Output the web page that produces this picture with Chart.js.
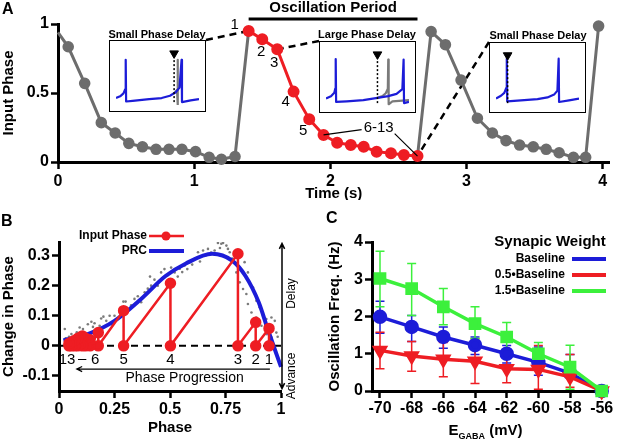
<!DOCTYPE html>
<html>
<head>
<meta charset="utf-8">
<title>Input phase, PRC and oscillation frequency</title>
<script src="https://cdn.jsdelivr.net/npm/chart.js@4.4.1/dist/chart.umd.min.js"></script>
<style>
  html, body { margin: 0; padding: 0; background: #fff; }
  #fig { position: relative; width: 617px; height: 440px; overflow: hidden; font-family: "Liberation Sans", Arial, sans-serif; }
  #fig canvas { position: absolute; }
  #fig .inset canvas { position: static; display: block; }
  .inset { position: absolute; border: 1.5px solid #000; background: #fff; }
  .inset-title { position: absolute; font-weight: bold; font-size: 11px; white-space: nowrap; transform: translate(-50%, -50%); }
  .panel-letter { position: absolute; font-weight: bold; font-size: 16px; line-height: 16px; }
</style>
</head>
<body>
<div id="fig">
  <canvas id="chartA" width="617" height="200" style="left:0;top:0"></canvas>
  <canvas id="chartB" width="305" height="240" style="left:0;top:200px"></canvas>
  <canvas id="chartC" width="312" height="240" style="left:305px;top:200px"></canvas>

  <div class="inset-title" style="left:157px;top:34px">Small Phase Delay</div>
  <div class="inset" id="inset1" style="left:109px;top:40px"><canvas id="insetChart1" width="95" height="70"></canvas></div>
  <div class="inset-title" style="left:367px;top:34px">Large Phase Delay</div>
  <div class="inset" id="inset2" style="left:319px;top:41px"><canvas id="insetChart2" width="95" height="70"></canvas></div>
  <div class="inset-title" style="left:538px;top:35px">Small Phase Delay</div>
  <div class="inset" id="inset3" style="left:489px;top:42px"><canvas id="insetChart3" width="95" height="69"></canvas></div>

  <div class="panel-letter" style="left:2px;top:1px">A</div>
  <div class="panel-letter" style="left:1px;top:213px">B</div>
  <div class="panel-letter" style="left:326px;top:210px">C</div>
</div>

<script>
// ---- Panel A: input phase over time ----
const tPre = [0, 0.075, 0.196, 0.318, 0.42, 0.52, 0.62, 0.72, 0.815, 0.91, 1.01, 1.11, 1.2, 1.3, 1.4];
const phPre = [0.94, 0.835, 0.57, 0.285, 0.21, 0.135, 0.11, 0.092, 0.092, 0.092, 0.075, 0.034, 0.02, 0.04, 0.95];
const tCycle = [1.4, 1.5, 1.61, 1.73, 1.845, 1.95, 2.05, 2.15, 2.245, 2.34, 2.445, 2.54, 2.64];
const phCycle = [0.95, 0.89, 0.817, 0.51, 0.31, 0.196, 0.14, 0.123, 0.11, 0.075, 0.063, 0.05, 0.043];
const tPost = [2.64, 2.74, 2.845, 2.96, 3.08, 3.19, 3.29, 3.39, 3.49, 3.585, 3.68, 3.785, 3.875, 3.97];
const phPost = [0.043, 0.945, 0.85, 0.594, 0.317, 0.21, 0.155, 0.123, 0.11, 0.092, 0.067, 0.034, 0.034, 0.985];
const timeTicks = [0, 1, 2, 3, 4];
const inputTicks = [0, 0.5, 1];
const cycleNumbers = ["1", "2", "3", "4", "5"];

// inset voltage traces, [time, voltage] in box units
const inset1Blue = [[0, 0.12], [0.05, 0.15], [0.09, 0.2], [0.11, 0.27], [0.117, 0.78], [0.122, 0.06], [0.2, 0.07], [0.4, 0.1], [0.55, 0.12], [0.65, 0.16], [0.72, 0.22], [0.765, 0.3], [0.79, 0.78], [0.795, 0.05], [0.9, 0.08], [1, 0.1]];
const inset1Gray = [[0.7, 0.2], [0.735, 0.26], [0.742, 0.78], [0.746, 0.0]];
const inset2Blue = [[0, 0.13], [0.06, 0.17], [0.1, 0.23], [0.112, 0.3], [0.117, 0.81], [0.122, 0.07], [0.25, 0.08], [0.45, 0.1], [0.62, 0.14], [0.75, 0.17], [0.85, 0.21], [0.92, 0.29], [0.935, 0.8], [0.94, 0.05], [1, 0.07]];
const inset2Gray = [[0.62, 0.14], [0.68, 0.17], [0.72, 0.22], [0.745, 0.3], [0.75, 0.8], [0.755, 0.03], [0.8, 0.08], [1, 0.1]];
const inset3Blue = [[0, 0.13], [0.06, 0.18], [0.1, 0.23], [0.125, 0.32], [0.13, 0.83], [0.135, 0.08], [0.3, 0.1], [0.5, 0.12], [0.62, 0.15], [0.7, 0.2], [0.74, 0.27], [0.755, 0.83], [0.76, 0.07], [0.88, 0.1], [1, 0.13]];
const inset3Gray = [];
const insetMarks = [0.7, 0.62, 0.14];

// ---- Panel B: phase response ----
const stimPhase = [0.946, 0.886, 0.806, 0.502, 0.291, 0.177, 0.14, 0.12, 0.105, 0.085, 0.07, 0.055, 0.045];
const stimShift = [0.058, 0.078, 0.306, 0.208, 0.117, 0.044, 0.02, 0.025, 0.033, 0.025, 0.018, 0.012, 0.008];
const prcPhase = [0.02, 0.13, 0.25, 0.37, 0.48, 0.57, 0.69, 0.78, 0.84, 0.9, 0.94, 1.0];
const prcShift = [0.018, 0.039, 0.083, 0.156, 0.232, 0.273, 0.306, 0.283, 0.232, 0.144, 0.056, -0.07];
const samplePhase = [0.026, 0.03, 0.045, 0.056, 0.07, 0.08, 0.093, 0.108, 0.12, 0.13, 0.146, 0.153, 0.16, 0.175, 0.183, 0.19, 0.2, 0.213, 0.228, 0.24, 0.25, 0.262, 0.275, 0.29, 0.3, 0.31, 0.325, 0.34, 0.355, 0.37, 0.386, 0.4, 0.41, 0.415, 0.43, 0.445, 0.46, 0.475, 0.49, 0.505, 0.521, 0.535, 0.544, 0.555, 0.566, 0.578, 0.589, 0.6, 0.611, 0.626, 0.635, 0.649, 0.66, 0.671, 0.685, 0.701, 0.716, 0.725, 0.731, 0.739, 0.754, 0.761, 0.769, 0.78, 0.799, 0.814, 0.829, 0.836, 0.844, 0.851, 0.851, 0.867, 0.874, 0.889, 0.889, 0.904, 0.912, 0.919, 0.934, 0.934, 0.957, 0.957, 0.972, 0.979, 0.985];
const sampleShift = [0.056, 0.025, 0.03, 0.039, 0.02, 0.045, 0.061, 0.056, 0.035, 0.072, 0.08, 0.063, 0.075, 0.05, 0.067, 0.091, 0.097, 0.083, 0.1, 0.07, 0.1, 0.089, 0.11, 0.147, 0.147, 0.12, 0.135, 0.156, 0.165, 0.145, 0.178, 0.19, 0.23, 0.2, 0.22, 0.2, 0.244, 0.255, 0.235, 0.26, 0.244, 0.23, 0.256, 0.245, 0.267, 0.255, 0.278, 0.27, 0.289, 0.311, 0.28, 0.317, 0.3, 0.322, 0.31, 0.317, 0.342, 0.325, 0.339, 0.342, 0.333, 0.322, 0.311, 0.29, 0.244, 0.211, 0.189, 0.278, 0.172, 0.244, 0.139, 0.111, 0.194, 0.15, 0.094, 0.128, 0.067, 0.1, 0.089, 0.039, 0.094, 0.028, 0.083, 0.044, 0.03];
const phaseTicks = [0, 0.25, 0.5, 0.75, 1];
const shiftTicks = [-0.1, 0, 0.1, 0.2, 0.3];

// ---- Panel C: oscillation frequency vs E_GABA ----
const eGaba = [-70, -68, -66, -64, -62, -60, -58, -56];
const seriesNames = ["Baseline", "0.5\u2022Baseline", "1.5\u2022Baseline"];
const freqBase = [1.99, 1.72, 1.45, 1.23, 1.0, 0.77, 0.48, 0];
const freqBaseHi = [2.41, 2.03, 1.72, 1.45, 1.22, 1.18, 0.98, 0];
const freqBaseLo = [1.55, 1.33, 1.15, 0.98, 0.75, 0.42, 0.38, 0];
const freqHalf = [1.09, 0.94, 0.85, 0.8, 0.6, 0.58, 0.38, 0];
const freqHalfHi = [1.58, 1.33, 1.3, 1.4, 0.95, 1.22, 0.98, 0];
const freqHalfLo = [0.6, 0.53, 0.38, 0.2, 0.22, 0.05, 0.1, 0];
const freqOneHalf = [3.02, 2.75, 2.26, 1.81, 1.45, 1.0, 0.64, 0];
const freqOneHalfHi = [3.75, 3.42, 2.75, 2.26, 1.84, 1.3, 1.23, 0];
const freqOneHalfLo = [2.26, 2.03, 1.78, 1.41, 1.02, 0.75, 0.05, 0];
const gabaTicks = [-70, -68, -66, -64, -62, -60, -58, -56];
const freqTicks = [0, 1, 2, 3, 4];

const RED = "#ee1d23", BLUE = "#1c1cd8", GREEN = "#3cf03c", GRAY = "#6d6d6d";
const FONT = '"Liberation Sans", Arial, sans-serif';

Chart.defaults.font.family = FONT;
Chart.defaults.color = "#000";
Chart.defaults.animation = false;
Chart.defaults.events = [];
Chart.defaults.plugins.legend.display = false;
Chart.defaults.plugins.tooltip.enabled = false;

const tickFont = { size: 16, weight: "bold" };
const axisBorder = { display: true, color: "#000", width: 3 };
const axisGrid = { drawOnChartArea: false, drawTicks: true, tickLength: 7, tickWidth: 2.5, tickColor: "#000", color: "#000" };
const plainLabel = v => String(Math.round(v * 100) / 100);

const xy = (xs, ys) => xs.map((x, i) => ({ x, y: ys[i] }));
const fixedTicks = values => scale => { scale.ticks = values.map(value => ({ value })); };

// ---------- Panel A ----------
const labelShift = [[-14, -6], [-1, 13], [-3, 14], [-8, 10], [-6, 12]];
const insetLinks = [["inset1", "right", 0], ["inset2", "left", 2], ["inset3", "left", 12]];

const panelAOverlay = {
  id: "panelAOverlay",
  beforeDatasetsDraw(chart) {
    const { ctx, scales: { x, y } } = chart;
    const origin = chart.canvas.getBoundingClientRect();
    ctx.save();
    ctx.strokeStyle = "#000";
    ctx.lineWidth = 2.5;
    ctx.setLineDash([7, 5]);
    insetLinks.forEach(([id, side, k]) => {
      const r = document.getElementById(id).getBoundingClientRect();
      ctx.beginPath();
      ctx.moveTo((side === "right" ? r.right : r.left) - origin.left, r.top - origin.top);
      ctx.lineTo(x.getPixelForValue(tCycle[k]), y.getPixelForValue(phCycle[k]));
      ctx.stroke();
    });
    ctx.restore();
  },
  afterDatasetsDraw(chart) {
    const { ctx, scales: { x, y } } = chart;
    const px = k => x.getPixelForValue(tCycle[k]);
    const py = k => y.getPixelForValue(phCycle[k]);
    const last = tCycle.length - 1;
    ctx.save();
    ctx.fillStyle = "#000";
    ctx.strokeStyle = "#000";

    // oscillation period bar
    const barY = chart.chartArea.top - 5;
    ctx.lineWidth = 3;
    ctx.beginPath();
    ctx.moveTo(px(0), barY);
    ctx.lineTo(px(last), barY);
    ctx.stroke();
    ctx.font = "bold 15px " + FONT;
    ctx.textAlign = "center";
    ctx.textBaseline = "middle";
    ctx.fillText("Oscillation Period", (px(0) + px(last)) / 2, 8);

    // numbered inputs
    ctx.font = "15px " + FONT;
    cycleNumbers.forEach((s, k) => ctx.fillText(s, px(k) + labelShift[k][0], py(k) + labelShift[k][1]));

    // 6-13 with leader lines
    const lx = px(9) + 2, ly = py(9) - 24;
    ctx.fillText("6-13", lx, ly);
    const half = ctx.measureText("6-13").width / 2;
    ctx.lineWidth = 1.2;
    ctx.beginPath();
    ctx.moveTo(lx - half - 2, ly + 2);
    ctx.lineTo(px(5), py(5));
    ctx.moveTo(lx + half + 1, ly + 6);
    ctx.lineTo(px(last), py(last));
    ctx.stroke();
    ctx.restore();
  }
};

new Chart(document.getElementById("chartA"), {
  type: "scatter",
  data: {
    datasets: [
      { data: xy(tCycle, phCycle), showLine: true, borderColor: RED, backgroundColor: RED, borderWidth: 3, pointRadius: 4.5, clip: false },
      { data: xy(tPre, phPre), showLine: true, borderColor: GRAY, backgroundColor: GRAY, borderWidth: 3, clip: false,
        pointRadius: c => (c.dataIndex === 0 || c.dataIndex === tPre.length - 1) ? 0 : 4.3 },
      { data: xy(tPost, phPost), showLine: true, borderColor: GRAY, backgroundColor: GRAY, borderWidth: 3, clip: false,
        pointRadius: c => c.dataIndex === 0 ? 0 : 4.3 }
    ]
  },
  options: {
    responsive: false,
    layout: { padding: { top: 24, right: 2, bottom: 0, left: 0 } },
    scales: {
      x: {
        type: "linear", min: 0, max: 4.05,
        afterBuildTicks: fixedTicks(timeTicks),
        afterFit: s => { s.height = 38; },
        border: axisBorder, grid: axisGrid,
        ticks: { font: tickFont, padding: 3, maxRotation: 0, callback: plainLabel },
        title: { display: true, text: "Time (s)", font: { size: 15, weight: "bold", lineHeight: 0.8 }, padding: 0 }
      },
      y: {
        min: 0, max: 1,
        afterBuildTicks: fixedTicks(inputTicks),
        afterFit: s => { s.width = 58; },
        border: axisBorder, grid: axisGrid,
        ticks: { font: tickFont, padding: 2, callback: plainLabel },
        title: { display: true, text: "Input Phase", font: { size: 15, weight: "bold", lineHeight: 1.2 }, padding: 0 }
      }
    }
  },
  plugins: [panelAOverlay]
});

// insets
function drawInset(canvasId, blue, gray, mark) {
  new Chart(document.getElementById(canvasId), {
    type: "scatter",
    data: {
      datasets: [
        { data: [{ x: mark, y: 0.05 }, { x: mark, y: 0.8 }], showLine: true, borderColor: "#000", borderWidth: 1.5, borderDash: [2, 2], pointRadius: 0 },
        { data: [{ x: mark, y: 0.89 }], pointStyle: "triangle", rotation: 180, pointRadius: 5, backgroundColor: "#000", borderColor: "#000" },
        { data: blue.map(([x, y]) => ({ x, y })), showLine: true, borderColor: BLUE, borderWidth: 2.2, borderJoinStyle: "round", pointRadius: 0 },
        { data: gray.map(([x, y]) => ({ x, y })), showLine: true, borderColor: "#7a7a7a", borderWidth: 2.2, borderJoinStyle: "round", pointRadius: 0 }
      ]
    },
    options: {
      responsive: false,
      layout: { padding: 0 },
      scales: { x: { display: false, min: 0, max: 1 }, y: { display: false, min: 0, max: 1 } }
    }
  });
}
drawInset("insetChart1", inset1Blue, inset1Gray, insetMarks[0]);
drawInset("insetChart2", inset2Blue, inset2Gray, insetMarks[1]);
drawInset("insetChart3", inset3Blue, inset3Gray, insetMarks[2]);

// ---------- Panel B ----------
const sawtooth = [];
stimPhase.forEach((p, i) => { sawtooth.push({ x: p, y: 0 }, { x: p, y: stimShift[i] }); });

function arrowHead(ctx, x, y, angle, len) {
  ctx.moveTo(x + len * Math.cos(angle - 0.45), y + len * Math.sin(angle - 0.45));
  ctx.lineTo(x, y);
  ctx.lineTo(x + len * Math.cos(angle + 0.45), y + len * Math.sin(angle + 0.45));
}

const panelBOverlay = {
  id: "panelBOverlay",
  beforeDatasetsDraw(chart) {
    const { ctx, scales: { x, y } } = chart;
    const y0 = y.getPixelForValue(0);
    ctx.save();
    ctx.strokeStyle = "#000";
    ctx.lineWidth = 2;
    ctx.setLineDash([7, 5]);
    ctx.beginPath();
    ctx.moveTo(x.left, y0);
    ctx.lineTo(x.right, y0);
    ctx.stroke();
    ctx.restore();
  },
  afterDraw(chart) {
    const { ctx, scales: { x, y } } = chart;
    const y0 = y.getPixelForValue(0);
    ctx.save();
    ctx.fillStyle = "#000";
    ctx.strokeStyle = "#000";
    ctx.textAlign = "center";
    ctx.textBaseline = "middle";

    // input numbers under the zero line
    ctx.font = "15px " + FONT;
    for (let i = 0; i < 5; i++) ctx.fillText(String(i + 1), x.getPixelForValue(stimPhase[i]), y0 + 14);
    const p6 = x.getPixelForValue(stimPhase[5]) - 3;
    const p13 = x.getPixelForValue(stimPhase[12]) - 2;
    ctx.fillText("6", p6, y0 + 14);
    ctx.fillText("13", p13, y0 + 14);
    ctx.fillText("\u2013", (p6 + p13) / 2 + 1, y0 + 13);

    // phase progression arrow
    const ay = y.getPixelForValue(-0.077);
    const ax0 = x.getPixelForValue(0.95), ax1 = x.getPixelForValue(0.08);
    ctx.lineWidth = 1.2;
    ctx.beginPath();
    ctx.moveTo(ax0, ay);
    ctx.lineTo(ax1, ay);
    arrowHead(ctx, ax1, ay, 0, 6);
    ctx.stroke();
    ctx.font = "14px " + FONT;
    ctx.fillText("Phase Progression", x.getPixelForValue(0.566), y.getPixelForValue(-0.106));

    // delay / advance double arrow
    const dx = x.getPixelForValue(1) + 1;
    const dTop = y.getPixelForValue(0.34), dBot = y.getPixelForValue(-0.142);
    ctx.lineWidth = 1.5;
    ctx.beginPath();
    ctx.moveTo(dx, dTop);
    ctx.lineTo(dx, dBot);
    arrowHead(ctx, dx, dTop, Math.PI / 2, 6);
    arrowHead(ctx, dx, dBot, -Math.PI / 2, 6);
    ctx.stroke();
    ctx.font = "12px " + FONT;
    [["Delay", y.getPixelForValue(0.174)], ["Advance", y.getPixelForValue(-0.1)]].forEach(([t, ty]) => {
      ctx.save();
      ctx.translate(dx + 10, ty);
      ctx.rotate(-Math.PI / 2);
      ctx.fillText(t, 0, 0);
      ctx.restore();
    });

    // legend
    ctx.font = "bold 12px " + FONT;
    ctx.textAlign = "right";
    ctx.fillText("Input Phase", 147, 36);
    ctx.fillText("PRC", 147, 51);
    ctx.lineWidth = 2.5;
    ctx.strokeStyle = RED;
    ctx.beginPath();
    ctx.moveTo(149, 36);
    ctx.lineTo(184, 36);
    ctx.stroke();
    ctx.fillStyle = RED;
    ctx.beginPath();
    ctx.arc(166, 36, 4.5, 0, Math.PI * 2);
    ctx.fill();
    ctx.lineWidth = 4;
    ctx.strokeStyle = BLUE;
    ctx.beginPath();
    ctx.moveTo(149, 51);
    ctx.lineTo(184, 51);
    ctx.stroke();
    ctx.restore();
  }
};

new Chart(document.getElementById("chartB"), {
  type: "scatter",
  data: {
    datasets: [
      { data: sawtooth, showLine: true, borderColor: RED, backgroundColor: RED, borderWidth: 2.5, pointRadius: 4.5, clip: false },
      { data: xy(prcPhase, prcShift), showLine: true, borderColor: BLUE, borderWidth: 4, pointRadius: 0, cubicInterpolationMode: "monotone", clip: false },
      { data: xy(samplePhase, sampleShift), backgroundColor: "#7b7b7b", borderWidth: 0, pointRadius: 1.3 }
    ]
  },
  options: {
    responsive: false,
    layout: { padding: { top: 42, right: 24, bottom: 0, left: 0 } },
    scales: {
      x: {
        type: "linear", min: 0, max: 1,
        afterBuildTicks: fixedTicks(phaseTicks),
        afterFit: s => { s.height = 49; },
        border: axisBorder, grid: axisGrid,
        ticks: { font: tickFont, padding: 2, maxRotation: 0, callback: plainLabel },
        title: { display: true, text: "Phase", font: { size: 15, weight: "bold", lineHeight: 1.2 }, padding: { top: 0, bottom: 3 } }
      },
      y: {
        min: -0.15, max: 0.345,
        afterBuildTicks: fixedTicks(shiftTicks),
        afterFit: s => { s.width = 59; },
        border: axisBorder, grid: axisGrid,
        ticks: { font: tickFont, padding: 2, callback: plainLabel },
        title: { display: true, text: "Change in Phase", font: { size: 15, weight: "bold", lineHeight: 1.2 }, padding: 0 }
      }
    }
  },
  plugins: [panelBOverlay]
});

// ---------- Panel C ----------
const seriesColors = [BLUE, RED, GREEN];

const panelCOverlay = {
  id: "panelCOverlay",
  beforeDatasetsDraw(chart) {
    const { ctx, scales: { x, y } } = chart;
    ctx.save();
    ctx.lineWidth = 1.5;
    [...chart.data.datasets].reverse().forEach(ds => {
      ctx.strokeStyle = ds.borderColor;
      ds.data.forEach((pt, i) => {
        const px = x.getPixelForValue(pt.x);
        const hi = y.getPixelForValue(ds.errHi[i]), lo = y.getPixelForValue(ds.errLo[i]);
        ctx.beginPath();
        ctx.moveTo(px, hi);
        ctx.lineTo(px, lo);
        ctx.moveTo(px - 4.5, hi);
        ctx.lineTo(px + 4.5, hi);
        ctx.moveTo(px - 4.5, lo);
        ctx.lineTo(px + 4.5, lo);
        ctx.stroke();
      });
    });
    ctx.restore();
  },
  afterDraw(chart) {
    const { ctx, scales: { x } } = chart;
    ctx.save();
    ctx.fillStyle = "#000";
    // legend
    ctx.textBaseline = "middle";
    ctx.textAlign = "center";
    ctx.font = "bold 15px " + FONT;
    ctx.fillText("Synapic Weight", 245, 42);
    ctx.font = "bold 12px " + FONT;
    ctx.textAlign = "right";
    seriesNames.forEach((name, i) => {
      const ly = 59 + i * 16;
      ctx.fillStyle = "#000";
      ctx.fillText(name, 260, ly);
      ctx.strokeStyle = seriesColors[i];
      ctx.lineWidth = 4;
      ctx.beginPath();
      ctx.moveTo(267, ly);
      ctx.lineTo(301, ly);
      ctx.stroke();
    });

    // x title with subscript
    ctx.fillStyle = "#000";
    ctx.textAlign = "left";
    ctx.textBaseline = "alphabetic";
    const big = "bold 15px " + FONT, small = "bold 9px " + FONT;
    ctx.font = big;
    const wE = ctx.measureText("E").width, wU = ctx.measureText(" (mV)").width;
    ctx.font = small;
    const wS = ctx.measureText("GABA").width;
    let tx = (x.left + x.right) / 2 - 4 - (wE + wS + wU) / 2;
    const base = 235;
    ctx.font = big;
    ctx.fillText("E", tx, base);
    tx += wE;
    ctx.font = small;
    ctx.fillText("GABA", tx, base + 4);
    tx += wS;
    ctx.font = big;
    ctx.fillText(" (mV)", tx, base);
    ctx.restore();
  }
};

new Chart(document.getElementById("chartC"), {
  type: "scatter",
  data: {
    datasets: [
      { data: xy(eGaba, freqOneHalf), errHi: freqOneHalfHi, errLo: freqOneHalfLo, showLine: true, borderColor: GREEN, backgroundColor: GREEN,
        borderWidth: 3.5, pointStyle: "rect", pointRadius: 6.5, clip: false },
      { data: xy(eGaba, freqHalf), errHi: freqHalfHi, errLo: freqHalfLo, showLine: true, borderColor: RED, backgroundColor: RED,
        borderWidth: 3.5, pointStyle: "triangle", rotation: 180, pointRadius: 6, clip: false },
      { data: xy(eGaba, freqBase), errHi: freqBaseHi, errLo: freqBaseLo, showLine: true, borderColor: BLUE, backgroundColor: BLUE,
        borderWidth: 3.5, pointStyle: "circle", pointRadius: 5.5, clip: false }
    ]
  },
  options: {
    responsive: false,
    layout: { padding: { top: 42, right: 10, bottom: 0, left: 0 } },
    scales: {
      x: {
        type: "linear", min: -70.505, max: -55.665,
        afterBuildTicks: fixedTicks(gabaTicks),
        afterFit: s => { s.height = 49; },
        border: axisBorder, grid: axisGrid,
        ticks: { font: tickFont, padding: 1, maxRotation: 0, callback: plainLabel }
      },
      y: {
        min: 0, max: 4,
        afterBuildTicks: fixedTicks(freqTicks),
        afterFit: s => { s.width = 67; },
        border: axisBorder, grid: axisGrid,
        ticks: { font: tickFont, padding: 2, callback: plainLabel },
        title: { display: true, text: "Oscillation Freq. (Hz)", font: { size: 15, weight: "bold", lineHeight: 1.2 }, padding: { top: 21, bottom: 0 } }
      }
    }
  },
  plugins: [panelCOverlay]
});
</script>
</body>
</html>
